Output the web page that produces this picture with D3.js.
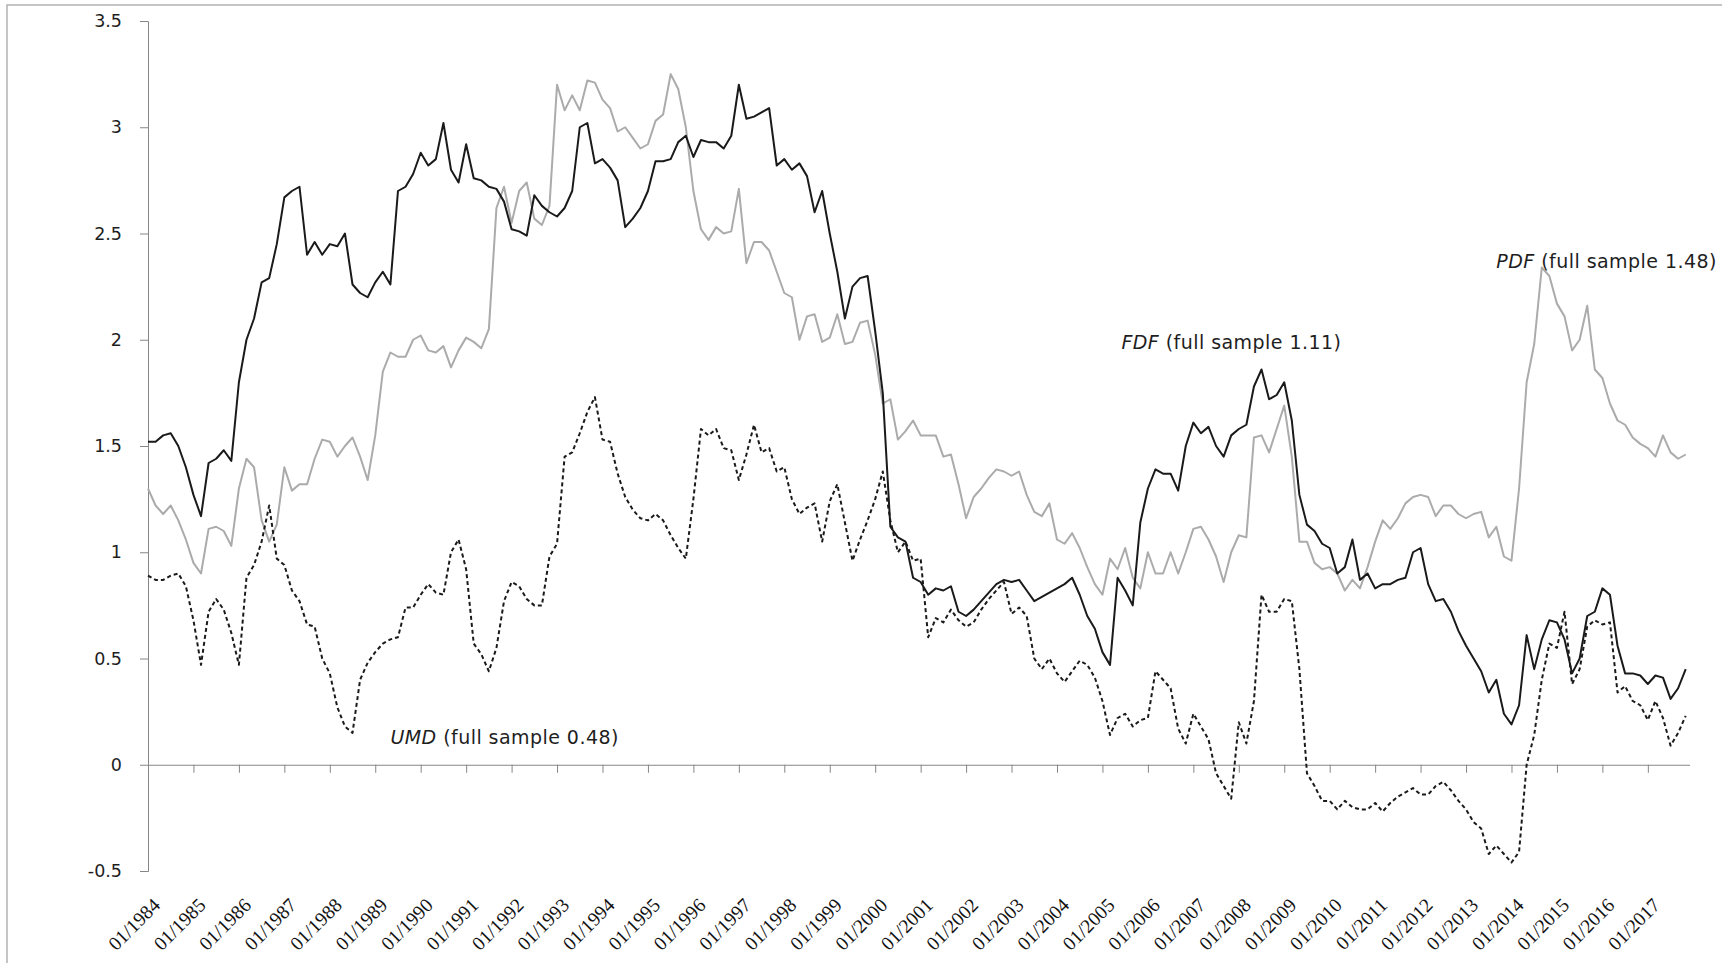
<!DOCTYPE html>
<html>
<head>
<meta charset="utf-8">
<script src="https://cdn.jsdelivr.net/npm/d3@7"></script>
<style>
  body { margin: 0; background: #fff; }
</style>
</head>
<body>
<div id="Vis"></div>
<script>
// category axis: one entry per month, 01/1984 .. 12/2017
var firstYear = 1984, lastYear = 2017;
var months = [];
for (var yr = firstYear; yr <= lastYear; yr++) {
  for (var mo = 1; mo <= 12; mo++) months.push((mo < 10 ? "0" : "") + mo + "/" + yr);
}
// values are read every second month (01, 03, 05, ...)
var sampleMonths = months.filter(function(d, i) { return i % 2 === 0; });

var fdf = [1.52,1.52,1.55,1.56,1.50,1.40,1.27,1.17,1.42,1.44,1.48,1.43,1.80,2.00,2.10,2.27,2.29,2.45,2.67,2.70,2.72,2.40,2.46,2.40,2.45,2.44,2.50,2.26,2.22,2.20,2.27,2.32,2.26,2.70,
  2.72,2.78,2.88,2.82,2.85,3.02,2.80,2.74,2.92,2.76,2.75,2.72,2.71,2.65,2.52,2.51,2.49,2.68,2.63,2.60,2.58,2.62,2.70,3.00,3.02,2.83,2.85,2.81,2.75,2.53,2.57,2.62,2.70,2.84,
  2.84,2.85,2.93,2.96,2.86,2.94,2.93,2.93,2.90,2.96,3.20,3.04,3.05,3.07,3.09,2.82,2.85,2.80,2.83,2.77,2.60,2.70,2.50,2.32,2.10,2.25,2.29,2.30,2.04,1.75,1.12,1.07,1.05,0.88,
  0.86,0.80,0.83,0.82,0.84,0.72,0.70,0.73,0.77,0.81,0.85,0.87,0.86,0.87,0.82,0.77,0.79,0.81,0.83,0.85,0.88,0.80,0.70,0.64,0.53,0.47,0.88,0.82,0.75,1.14,1.30,1.39,1.37,1.37,1.29,
  1.50,1.61,1.56,1.59,1.50,1.45,1.55,1.58,1.60,1.78,1.86,1.72,1.74,1.80,1.62,1.27,1.13,1.10,1.04,1.02,0.90,0.93,1.06,0.87,0.90,0.83,0.85,0.85,0.87,0.88,1.00,1.02,0.85,0.77,
  0.78,0.72,0.63,0.56,0.50,0.44,0.34,0.40,0.24,0.19,0.28,0.61,0.45,0.59,0.68,0.67,0.59,0.43,0.50,0.70,0.72,0.83,0.80,0.56,0.43,0.43,0.42,0.38,0.42,0.41,0.31,0.36,0.45];

var pdf = [1.30,1.22,1.18,1.22,1.15,1.06,0.95,0.90,1.11,1.12,1.10,1.03,1.30,1.44,1.40,1.15,1.05,1.13,1.40,1.29,1.32,1.32,1.44,1.53,1.52,1.45,1.50,1.54,1.45,1.34,1.55,1.85,1.94,1.92,
  1.92,2.00,2.02,1.95,1.94,1.97,1.87,1.95,2.01,1.99,1.96,2.05,2.62,2.72,2.55,2.70,2.74,2.57,2.54,2.63,3.20,3.08,3.15,3.08,3.22,3.21,3.13,3.09,2.98,3.00,2.95,2.90,2.92,3.03,
  3.06,3.25,3.18,3.00,2.70,2.52,2.47,2.53,2.50,2.51,2.71,2.36,2.46,2.46,2.42,2.32,2.22,2.20,2.00,2.11,2.12,1.99,2.01,2.12,1.98,1.99,2.08,2.09,1.93,1.70,1.72,1.53,1.57,1.62,
  1.55,1.55,1.55,1.45,1.46,1.32,1.16,1.26,1.30,1.35,1.39,1.38,1.36,1.38,1.27,1.19,1.17,1.23,1.06,1.04,1.09,1.02,0.93,0.85,0.80,0.97,0.92,1.02,0.88,0.83,1.00,0.90,0.90,1.00,0.90,
  1.00,1.11,1.12,1.06,0.98,0.86,1.00,1.08,1.07,1.54,1.55,1.47,1.58,1.69,1.45,1.05,1.05,0.95,0.92,0.93,0.90,0.82,0.87,0.83,0.93,1.05,1.15,1.11,1.16,1.23,1.26,1.27,1.26,1.17,
  1.22,1.22,1.18,1.16,1.18,1.19,1.07,1.12,0.98,0.96,1.30,1.80,1.98,2.34,2.30,2.17,2.11,1.95,2.00,2.16,1.86,1.82,1.70,1.62,1.60,1.54,1.51,1.49,1.45,1.55,1.47,1.44,1.46];

var umd = [0.89,0.87,0.87,0.89,0.90,0.84,0.68,0.47,0.72,0.78,0.73,0.62,0.47,0.88,0.94,1.05,1.22,0.97,0.94,0.82,0.77,0.66,0.65,0.50,0.43,0.27,0.18,0.15,0.40,0.48,0.53,0.57,0.59,0.60,
  0.74,0.74,0.80,0.85,0.81,0.80,1.00,1.06,0.92,0.57,0.52,0.44,0.55,0.77,0.86,0.84,0.78,0.75,0.75,0.98,1.04,1.45,1.47,1.56,1.66,1.73,1.53,1.52,1.37,1.26,1.20,1.16,1.15,1.18,
  1.15,1.08,1.02,0.97,1.25,1.58,1.55,1.58,1.49,1.48,1.34,1.46,1.60,1.47,1.49,1.38,1.40,1.25,1.18,1.21,1.23,1.05,1.24,1.32,1.14,0.96,1.06,1.15,1.25,1.38,1.15,1.00,1.05,0.96,
  0.97,0.60,0.69,0.67,0.73,0.68,0.65,0.67,0.73,0.78,0.82,0.86,0.71,0.74,0.70,0.50,0.45,0.50,0.43,0.39,0.44,0.49,0.47,0.41,0.30,0.14,0.22,0.24,0.18,0.21,0.22,0.44,0.40,0.36,0.17,
  0.10,0.24,0.18,0.12,-0.04,-0.10,-0.16,0.20,0.10,0.30,0.80,0.72,0.72,0.78,0.77,0.45,-0.04,-0.10,-0.17,-0.17,-0.21,-0.17,-0.20,-0.21,-0.21,-0.18,-0.22,-0.18,-0.15,-0.13,-0.11,-0.14,-0.14,-0.10,
  -0.08,-0.12,-0.17,-0.21,-0.27,-0.30,-0.42,-0.38,-0.42,-0.46,-0.41,0.00,0.14,0.40,0.57,0.55,0.72,0.38,0.45,0.65,0.68,0.66,0.67,0.34,0.37,0.30,0.28,0.21,0.30,0.22,0.09,0.15,0.23];

var yTicks = [-0.5, 0, 0.5, 1, 1.5, 2, 2.5, 3, 3.5];
var xTicks = months.filter(function(d, i) { return i % 12 === 0; });

// series labels placed inside the plot
var notes = [
  {name: "UMD", text: " (full sample 0.48)", month: "05/1989", value: 0.13},
  {name: "FDF", text: " (full sample 1.11)", month: "06/2005", value: 1.99},
  {name: "PDF", text: " (full sample 1.48)", month: "09/2013", value: 2.37}
];

var width = 1722, height = 963;

var svg = d3.select("#Vis")
  .append("svg")
    .attr("width", width)
    .attr("height", height);

// chart area border (only top and left edges are inside the picture)
svg.append("rect")
  .attr("x", 7).attr("y", 5)
  .attr("width", width).attr("height", height)
  .attr("fill", "none")
  .attr("stroke", "#a6a6a6")
  .attr("stroke-width", 1.3);

var x = d3.scalePoint()
  .domain(months)
  .range([148, 1689.5]);

var y = d3.scaleLinear()
  .domain([-0.5, 3.5])
  .range([871, 21]);

// Y axis
var yAxis = svg.append("g")
  .attr("transform", "translate(148,0)")
  .call(d3.axisLeft(y).tickValues(yTicks).tickSize(8).tickPadding(18)
    .tickFormat(function(d) { return String(d); }));
yAxis.selectAll("path, line").attr("stroke", "#868686");
yAxis.selectAll("text")
  .attr("font-family", "DejaVu Sans")
  .attr("font-size", "17.5px")
  .attr("fill", "#1e1e1e");

// X axis line at zero with yearly ticks
var xAxis = svg.append("g")
  .attr("transform", "translate(0," + y(0) + ")")
  .call(d3.axisBottom(x).tickValues(xTicks).tickSize(8).tickSizeOuter(0).tickFormat(""));
xAxis.selectAll("path, line").attr("stroke", "#868686");

// X tick labels below the plot, rotated
var xLabels = svg.append("g")
  .attr("transform", "translate(3.5,897)")
  .call(d3.axisBottom(x).tickValues(xTicks).tickSize(0).tickPadding(0));
xLabels.select(".domain").remove();
xLabels.selectAll("text")
  .attr("y", 0)
  .attr("dy", "0.68em")
  .attr("text-anchor", "end")
  .attr("transform", "rotate(-45)")
  .attr("font-family", "Liberation Serif")
  .attr("font-size", "19.5px")
  .attr("fill", "#111");

var line = d3.line()
  .x(function(d) { return x(d.month); })
  .y(function(d) { return y(d.value); });

function seriesData(values) {
  return values.map(function(v, i) { return {month: sampleMonths[i], value: v}; });
}

var series = [
  {data: pdf, color: "#ababab", dash: null},
  {data: umd, color: "#1a1a1a", dash: "4,3"},
  {data: fdf, color: "#1a1a1a", dash: null}
];

series.forEach(function(s) {
  svg.append("path")
    .datum(seriesData(s.data))
    .attr("fill", "none")
    .attr("stroke", s.color)
    .attr("stroke-width", 2)
    .attr("stroke-linejoin", "round")
    .attr("stroke-dasharray", s.dash)
    .attr("d", line);
});

// labels
var note = svg.selectAll(".note")
  .data(notes)
  .enter().append("text")
    .attr("class", "note")
    .attr("x", function(d) { return x(d.month); })
    .attr("y", function(d) { return y(d.value); })
    .attr("dy", "0.36em")
    .attr("font-family", "DejaVu Sans")
    .attr("font-size", "19px")
    .attr("letter-spacing", "0.45px")
    .attr("fill", "#1e1e1e");
note.append("tspan").attr("font-style", "italic").text(function(d) { return d.name; });
note.append("tspan").text(function(d) { return d.text; });
</script>
</body>
</html>
